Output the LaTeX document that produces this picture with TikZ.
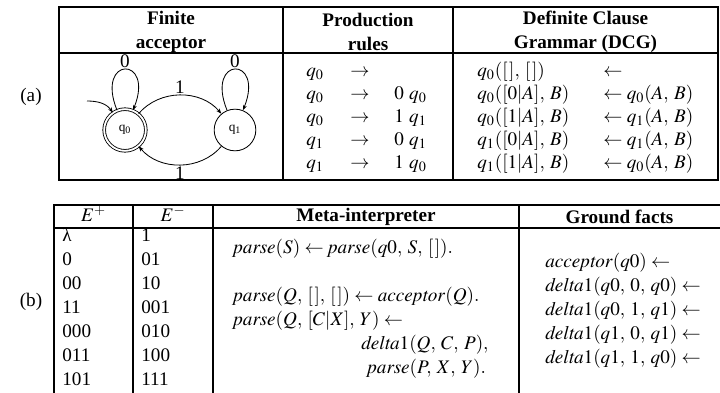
\documentclass[tikz,border=0pt]{standalone}
\usepackage{mathptmx}
\usepackage{fontspec}
\setmainfont{Liberation Serif}
\usetikzlibrary{automata, arrows.meta}
\thinmuskip=5mu\relax
\newcommand{\nil}{[\mkern1.5mu]}

\begin{document}
\begin{tikzpicture}[
		x=0.6pt,
		y=-0.6pt,
		font=\fontsize{11.5}{14.4}\selectfont,
		rule/.style={line width=0.9pt},
		head/.style={font=\fontsize{11.5}{14.4}\selectfont\bfseries, align=center},
		cell/.style={anchor=west, inner sep=0pt, text height=8pt, text depth=2.5pt},
		mid/.style={inner sep=0pt, text height=8pt, text depth=2.5pt},
		trans/.style={-{Stealth[length=3.2pt, width=2.4pt]}, line width=0.5pt},
		every state/.style={draw, line width=0.5pt, minimum size=25pt, inner sep=0pt, font=\footnotesize},
		accepting/.style={double, double distance=1.1pt}
		]
		\useasboundingbox (0,0) rectangle (720,393);
		
		% Part labels
		\node (pa) at (31,97) {(a)};
		\node (pb) at (31,302) {(b)};
		
		% Upper table
		\draw[rule] (59,7) rectangle (718,180);
		\draw[rule] (59,53) -- (718,53);
		\draw[rule] (283,7) -- (283,180);
		\draw[rule] (453,7) -- (453,180);
		\node[head] (hfa) at (171,31.5) {Finite\\acceptor};
		\node[head] (hpr) at (368,31.5) {Production\\rules};
		\node[head] (hdcg) at (585.5,31.5) {Definite Clause\\Grammar (DCG)};
		
		% Finite acceptor
		\node[state, accepting] (q0) at (125,130) {q\textsubscript{0}};
		\node[state] (q1) at (235,130) {q\textsubscript{1}};
		\coordinate (init) at (87,101);
		\draw[trans] (init) to[out=0, in=125] (q0);
		\draw[trans] (q0) to[out=112, in=68, looseness=9.5] node[above, inner sep=1pt] (l00) {0} (q0);
		\draw[trans] (q1) to[out=112, in=68, looseness=9.5] node[above, inner sep=1pt] (l11) {0} (q1);
		\draw[trans] (q0) to[bend left=50] node[above, inner sep=1pt] (l01) {1} (q1);
		\draw[trans] (q1) to[bend left=50] node[below, inner sep=1pt] (l10) {1} (q0);
		
		% Production rules
		\foreach \lhs/\rhs [count=\i] in {q_0/{}, q_0/{0\,q_0}, q_0/{1\,q_1}, q_1/{0\,q_1}, q_1/{1\,q_0}}{
			\node[cell] (pl\i) at (306,49+23*\i) {$\lhs$};
			\node[mid] (pa\i) at (360,49+23*\i) {$\rightarrow$};
			\node[cell] (pr\i) at (394,49+23*\i) {$\rhs$};
		}
		
		% Definite clause grammar
		\foreach \head/\body [count=\i] in {
			{q_0(\nil, \nil)}/{\leftarrow},
			{q_0([0|A], B)}/{\leftarrow q_0(A, B)},
			{q_0([1|A], B)}/{\leftarrow q_1(A, B)},
			{q_1([0|A], B)}/{\leftarrow q_1(A, B)},
			{q_1([1|A], B)}/{\leftarrow q_0(A, B)}
		}{
			\node[cell] (dh\i) at (477,49+23*\i) {$\head$};
			\node[cell] (db\i) at (603,49+23*\i) {$\body$};
		}
		
		% Lower table
		\draw[rule] (54,393) -- (54,205) -- (720,205);
		\draw[rule] (54,228) -- (720,228);
		\foreach \x in {133,213,519}{
			\draw[rule] (\x,205) -- (\x,393);
		}
		\node[mid] (hep) at (93.5,216.5) {$E^+$};
		\node[mid] (hen) at (173,216.5) {$E^-$};
		\node[head] (hmi) at (366,216.5) {Meta-interpreter};
		\node[head] (hgf) at (619.5,216.5) {Ground facts};
		
		% Examples
		\foreach \pos/\neg [count=\i] in {λ/1, 0/01, 00/10, 11/001, 000/010, 011/100, 101/111}{
			\node[cell] (ep\i) at (62,213+24*\i) {\pos};
			\node[cell] (en\i) at (141,213+24*\i) {\neg};
		}
		
		% Meta-interpreter
		\node[cell] (m1) at (233,249) {$\mathit{parse}(S) \leftarrow \mathit{parse}(q0, S, \nil).$};
		\node[cell] (m2) at (233,297) {$\mathit{parse}(Q, \nil, \nil) \leftarrow \mathit{acceptor}(Q).$};
		\node[cell] (m3) at (233,321) {$\mathit{parse}(Q, [C|X], Y) \leftarrow$};
		\node[cell] (m4) at (361,345) {$\mathit{delta}1(Q, C, P),$};
		\node[cell] (m5) at (367,369) {$\mathit{parse}(P, X, Y).$};
		
		% Ground facts
		\foreach \fact [count=\i] in {
			{\mathit{acceptor}(q0)},
			{\mathit{delta}1(q0, 0, q0)},
			{\mathit{delta}1(q0, 1, q1)},
			{\mathit{delta}1(q1, 0, q1)},
			{\mathit{delta}1(q1, 1, q0)}
		}{
			\node[cell] (gf\i) at (545,239+24*\i) {$\fact \leftarrow$};
		}
		
	\end{tikzpicture}
\end{document}
